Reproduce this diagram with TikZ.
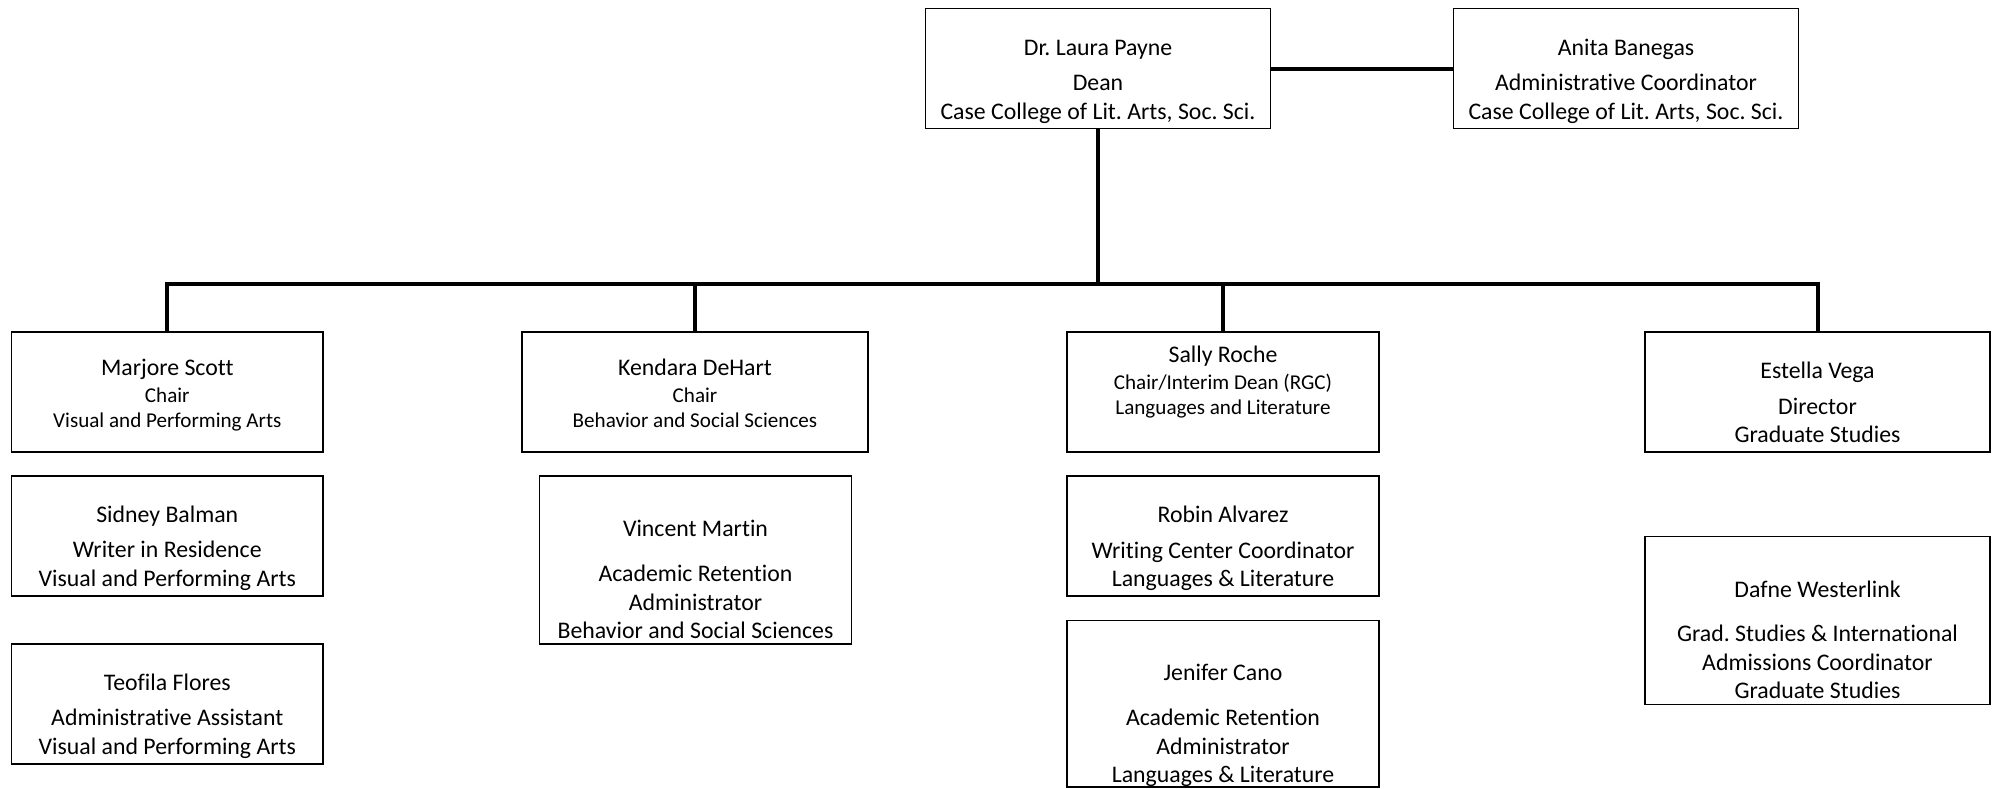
\documentclass[tikz,border=0pt]{standalone}
\usepackage{fontspec}
\setmainfont{Carlito}[Ligatures=NoCommon]
\frenchspacing
\begin{document}
\begin{tikzpicture}[x=0.5pt,y=-0.5pt,
  box/.style={draw, line width=0.6pt, inner sep=0pt, outer sep=0pt, rectangle},
  conn/.style={line width=2pt},
  big/.style={font=\fontsize{11.9}{14}\selectfont, anchor=mid, inner sep=0pt, yshift=-1.9pt},
  small/.style={font=\fontsize{10.55}{12}\selectfont, anchor=mid, inner sep=0pt, yshift=-1.7pt}]
\useasboundingbox (0,0) rectangle (1992,788);

% boxes
\node[box, minimum width=172.5pt, minimum height=60pt] (dean) at (1098,68.5) {};
\node[box, minimum width=172.5pt, minimum height=60pt] (anita) at (1626,68.5) {};
\node[box, minimum width=155.75pt, minimum height=60pt] (marjore) at (167.3,392) {};
\node[box, minimum width=173pt, minimum height=60pt] (kendara) at (695,392) {};
\node[box, minimum width=156pt, minimum height=60pt] (sally) at (1223,392) {};
\node[box, minimum width=172.5pt, minimum height=60pt] (estella) at (1817.5,392) {};
\node[box, minimum width=155.75pt, minimum height=60pt] (sidney) at (167.3,536) {};
\node[box, minimum width=155.75pt, minimum height=60pt] (teofila) at (167.3,704) {};
\node[box, minimum width=155.85pt, minimum height=84pt] (vincent) at (695.5,560) {};
\node[box, minimum width=156pt, minimum height=60pt] (robin) at (1223,536) {};
\node[box, minimum width=156pt, minimum height=83.35pt] (jenifer) at (1223,703.7) {};
\node[box, minimum width=172.5pt, minimum height=84pt] (dafne) at (1817.5,620.3) {};

% connectors
\coordinate (bus) at (1098,284);
\draw[conn] (dean.east) -- (anita.west);
\draw[conn] (dean.south) -- (bus);
\draw[conn] (bus) -| (marjore.north);
\draw[conn] (bus) -| (kendara.north);
\draw[conn] (bus) -| (sally.north);
\draw[conn] (bus) -| (estella.north);

% texts
\node[big] (t1a) at (1098,46.7) {Dr. Laura Payne};
\node[big] (t1b) at (1098,81.7) {Dean};
\node[big] (t1c) at (1098,111) {Case College of Lit. Arts, Soc. Sci.};

\node[big] (t2a) at (1626,46.7) {Anita Banegas};
\node[big] (t2b) at (1626,81.7) {Administrative Coordinator};
\node[big] (t2c) at (1626,111) {Case College of Lit. Arts, Soc. Sci.};

\node[big] (t3a) at (167.3,366.7) {Marjore Scott};
\node[small] (t3b) at (167.3,394) {Chair};
\node[small] (t3c) at (167.3,419.3) {Visual and Performing Arts};

\node[big] (t4a) at (695,366.7) {Kendara DeHart};
\node[small] (t4b) at (695,394) {Chair};
\node[small] (t4c) at (695,419.3) {Behavior and Social Sciences};

\node[big] (t5a) at (1223,354) {Sally Roche};
\node[small] (t5b) at (1223,381.7) {Chair/Interim Dean (RGC)};
\node[small] (t5c) at (1223,406.7) {Languages and Literature};

\node[big] (t6a) at (1817.5,370) {Estella Vega};
\node[big] (t6b) at (1817.5,406) {Director};
\node[big] (t6c) at (1817.5,434.3) {Graduate Studies};

\node[big] (t7a) at (167.3,514) {Sidney Balman};
\node[big] (t7b) at (167.3,549.3) {Writer in Residence};
\node[big] (t7c) at (167.3,577.7) {Visual and Performing Arts};

\node[big] (t8a) at (167.3,681.7) {Teofila Flores};
\node[big] (t8b) at (167.3,717.3) {Administrative Assistant};
\node[big] (t8c) at (167.3,745.7) {Visual and Performing Arts};

\node[big] (t9a) at (695.5,528.3) {Vincent Martin};
\node[big] (t9b) at (695.5,572.7) {Academic Retention};
\node[big] (t9c) at (695.5,601.7) {Administrator};
\node[big] (t9d) at (695.5,630) {Behavior and Social Sciences};

\node[big] (t10a) at (1223,514) {Robin Alvarez};
\node[big] (t10b) at (1223,550) {Writing Center Coordinator};
\node[big] (t10c) at (1223,577.7) {Languages \& Literature};

\node[big] (t11a) at (1223,672.3) {Jenifer Cano};
\node[big] (t11b) at (1223,716.7) {Academic Retention};
\node[big] (t11c) at (1223,745.7) {Administrator};
\node[big] (t11d) at (1223,774) {Languages \& Literature};

\node[big] (t12a) at (1817.5,588.7) {Dafne Westerlink};
\node[big] (t12b) at (1817.5,632.7) {Grad. Studies \& International};
\node[big] (t12c) at (1817.5,661.7) {Admissions Coordinator};
\node[big] (t12d) at (1817.5,690) {Graduate Studies};
\end{tikzpicture}
\end{document}
